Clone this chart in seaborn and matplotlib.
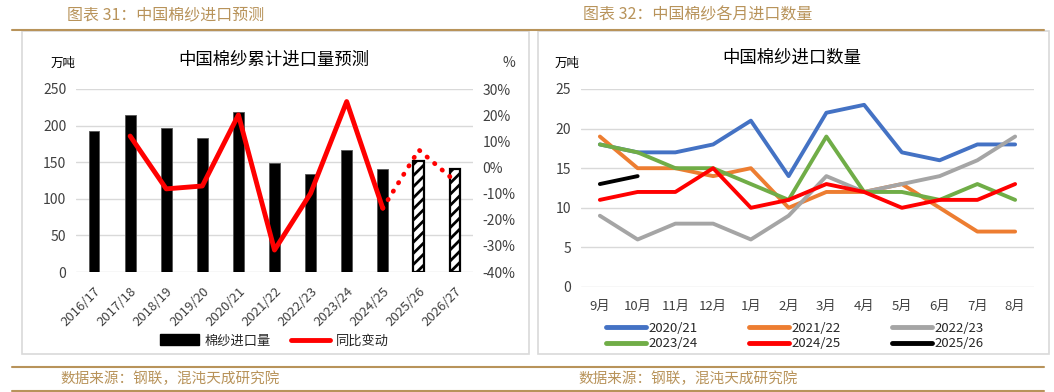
import numpy as np
import pandas as pd
import matplotlib
matplotlib.use("Agg")
import matplotlib.pyplot as plt
import seaborn as sns
from matplotlib.lines import Line2D
from matplotlib.patches import Patch, Rectangle

# ---------------- data ----------------
seasons = ['2016/17', '2017/18', '2018/19', '2019/20', '2020/21', '2021/22',
           '2022/23', '2023/24', '2024/25', '2025/26', '2026/27']
import_volume = [192, 215, 197, 183, 219, 149, 134, 167, 141, 151, 141]
is_forecast = [False] * 9 + [True, True]
yoy_actual = [np.nan, 12.0, -8.2, -7.1, 20.1, -31.6, -9.9, 25.2, -15.6, np.nan, np.nan]
yoy_forecast = [np.nan] * 8 + [-15.6, 6.7, -5.2]

months = ['9月', '10月', '11月', '12月', '1月', '2月', '3月', '4月', '5月', '6月', '7月', '8月']
m_2020_21 = [18, 17, 17, 18, 21, 14, 22, 23, 17, 16, 18, 18]
m_2021_22 = [19, 15, 15, 14, 15, 10, 12, 12, 13, 10, 7, 7]
m_2022_23 = [9, 6, 8, 8, 6, 9, 14, 12, 13, 14, 16, 19]
m_2023_24 = [18, 17, 15, 15, 13, 11, 19, 12, 12, 11, 13, 11]
m_2024_25 = [11, 12, 12, 15, 10, 11, 13, 12, 10, 11, 11, 13]
m_2025_26 = [13, 14]
series_names = ['2020/21', '2021/22', '2022/23', '2023/24', '2024/25', '2025/26']
series_values = [m_2020_21, m_2021_22, m_2022_23, m_2023_24, m_2024_25, m_2025_26]
series_colors = ['#4472C4', '#ED7D31', '#A5A5A5', '#70AD47', '#FF0000', '#000000']

# ---------------- style ----------------
sns.set_theme(style="white")
plt.rcParams['font.family'] = ['Noto Sans CJK SC', 'DejaVu Sans']
plt.rcParams['hatch.linewidth'] = 2.0
plt.rcParams['axes.unicode_minus'] = False

W, H = 1054, 392
fig = plt.figure(figsize=(W / 100, H / 100), dpi=100)

def fx(px):
    return px / W

def fy(py):
    return 1 - py / H

TAN = '#B8935A'
GRID = '#D9D9D9'
TXT = '#404040'

# frame decorations
fig.add_artist(Line2D([fx(12), fx(1044)], [fy(30), fy(30)], color=TAN, lw=1.5))
fig.add_artist(Line2D([fx(12), fx(1044)], [fy(367), fy(367)], color=TAN, lw=1.5))
fig.add_artist(Line2D([fx(12), fx(1044)], [fy(391), fy(391)], color=TAN, lw=1.5))
fig.add_artist(Rectangle((fx(22), fy(354)), fx(529) - fx(22), fy(31) - fy(354),
                         fill=False, ec=GRID, lw=1.2))
fig.add_artist(Rectangle((fx(538), fy(354)), fx(1049) - fx(538), fy(31) - fy(354),
                         fill=False, ec=GRID, lw=1.2))

fig.text(fx(67), fy(15), '图表 31：中国棉纱进口预测', color=TAN, fontsize=11.5, va='center', ha='left')
fig.text(fx(583), fy(15), '图表 32：中国棉纱各月进口数量', color=TAN, fontsize=11.5, va='center', ha='left')
fig.text(fx(60), fy(379), '数据来源：钢联，混沌天成研究院', color=TAN, fontsize=10.5, va='center', ha='left')
fig.text(fx(578), fy(379), '数据来源：钢联，混沌天成研究院', color=TAN, fontsize=10.5, va='center', ha='left')

# ---------------- left chart ----------------
axL = fig.add_axes([fx(76), fy(272), fx(473) - fx(76), fy(89) - fy(272)])
dfL = pd.DataFrame({'season': seasons, 'volume': import_volume})
sns.barplot(data=dfL, x='season', y='volume', color='black', width=0.3,
            saturation=1, ax=axL, edgecolor='#555555', linewidth=0.6)
for patch, fc in zip(axL.patches, is_forecast):
    if fc:
        patch.set_facecolor('white')
        patch.set_edgecolor('black')
        patch.set_hatch('///')
        patch.set_linewidth(1.6)
axL.set_ylim(0, 250)
axL.set_xlim(-0.5, len(seasons) - 0.5)
axL.set_yticks(range(0, 251, 50))
axL.grid(axis='y', color=GRID, lw=1)
axL.set_axisbelow(True)
for s in axL.spines.values():
    s.set_visible(False)
axL.set_xlabel('')
axL.set_ylabel('')
axL.tick_params(axis='y', length=0, pad=7, labelsize=10, labelcolor=TXT)
axL.tick_params(axis='x', length=0, pad=9, labelsize=9.5, labelcolor=TXT)
plt.setp(axL.get_xticklabels(), rotation=45, ha='right', rotation_mode='anchor')

axR = axL.twinx()
pos = np.arange(len(seasons))
sns.lineplot(x=pos, y=np.array(yoy_actual) / 100, color='#FF0000', lw=3.5, ax=axR)
sns.lineplot(x=pos, y=np.array(yoy_forecast) / 100, color='#FF0000', lw=3.4,
             ax=axR, linestyle=(0, (0.1, 2.0)), dash_capstyle='round')
for ln in axR.lines[-1:]:
    ln.set_dash_capstyle('round')
axR.set_ylim(-0.4, 0.3)
axR.set_yticks(np.arange(-0.4, 0.31, 0.1))
axR.set_yticklabels([f'{int(round(v * 100))}%' for v in np.arange(-0.4, 0.31, 0.1)])
for s in axR.spines.values():
    s.set_visible(False)
axR.tick_params(axis='y', length=0, pad=7, labelsize=10, labelcolor=TXT)
axR.set_ylabel('')
axR.grid(False)

fig.text(fx(274), fy(60), '中国棉纱累计进口量预测', fontsize=12.5, color='black', ha='center', va='center')
fig.text(fx(63), fy(63), '万吨', fontsize=9, color='black', ha='center', va='center')
fig.text(fx(509), fy(63), '%', fontsize=10, color=TXT, ha='center', va='center')

hL = [Patch(facecolor='black', edgecolor='black'),
      Line2D([0], [0], color='#FF0000', lw=3.5)]
fig.legend(hL, ['棉纱进口量', '同比变动'], loc='center', bbox_to_anchor=(fx(274), fy(341)),
           ncol=2, frameon=False, fontsize=9.5, handlelength=3.0, handletextpad=0.4,
           columnspacing=1.5, handleheight=0.9)

# ---------------- right chart ----------------
ax2 = fig.add_axes([fx(581), fy(287), fx(1034) - fx(581), fy(89) - fy(287)])
rows = []
for name, vals in zip(series_names, series_values):
    for i, v in enumerate(vals):
        rows.append({'season': name, 'pos': i, 'value': v})
dfR = pd.DataFrame(rows)
sns.lineplot(data=dfR, x='pos', y='value', hue='season', hue_order=series_names,
             palette=dict(zip(series_names, series_colors)), lw=2.8, ax=ax2, legend=False)
ax2.set_ylim(0, 25)
ax2.set_xlim(-0.5, len(months) - 0.5)
ax2.set_yticks(range(0, 26, 5))
ax2.set_xticks(range(len(months)))
ax2.set_xticklabels(months)
ax2.grid(axis='y', color=GRID, lw=1)
ax2.set_axisbelow(True)
for s in ax2.spines.values():
    s.set_visible(False)
ax2.set_xlabel('')
ax2.set_ylabel('')
ax2.tick_params(axis='y', length=0, pad=7, labelsize=10, labelcolor=TXT)
ax2.tick_params(axis='x', length=0, pad=9, labelsize=9.5, labelcolor=TXT)

fig.text(fx(792), fy(58), '中国棉纱进口数量', fontsize=12.5, color='black', ha='center', va='center')
fig.text(fx(567), fy(63), '万吨', fontsize=9, color='black', ha='center', va='center')

order = [0, 3, 1, 4, 2, 5]
hR = [Line2D([0], [0], color=series_colors[i], lw=3.5, solid_capstyle='round') for i in order]
lR = [series_names[i] for i in order]
fig.legend(hR, lR, loc='center', bbox_to_anchor=(fx(795), fy(336)), ncol=3, frameon=False,
           fontsize=9.5, handlelength=3.0, handletextpad=0.2, columnspacing=3.9,
           labelspacing=0.2)

fig.savefig('out.png', dpi=100)
